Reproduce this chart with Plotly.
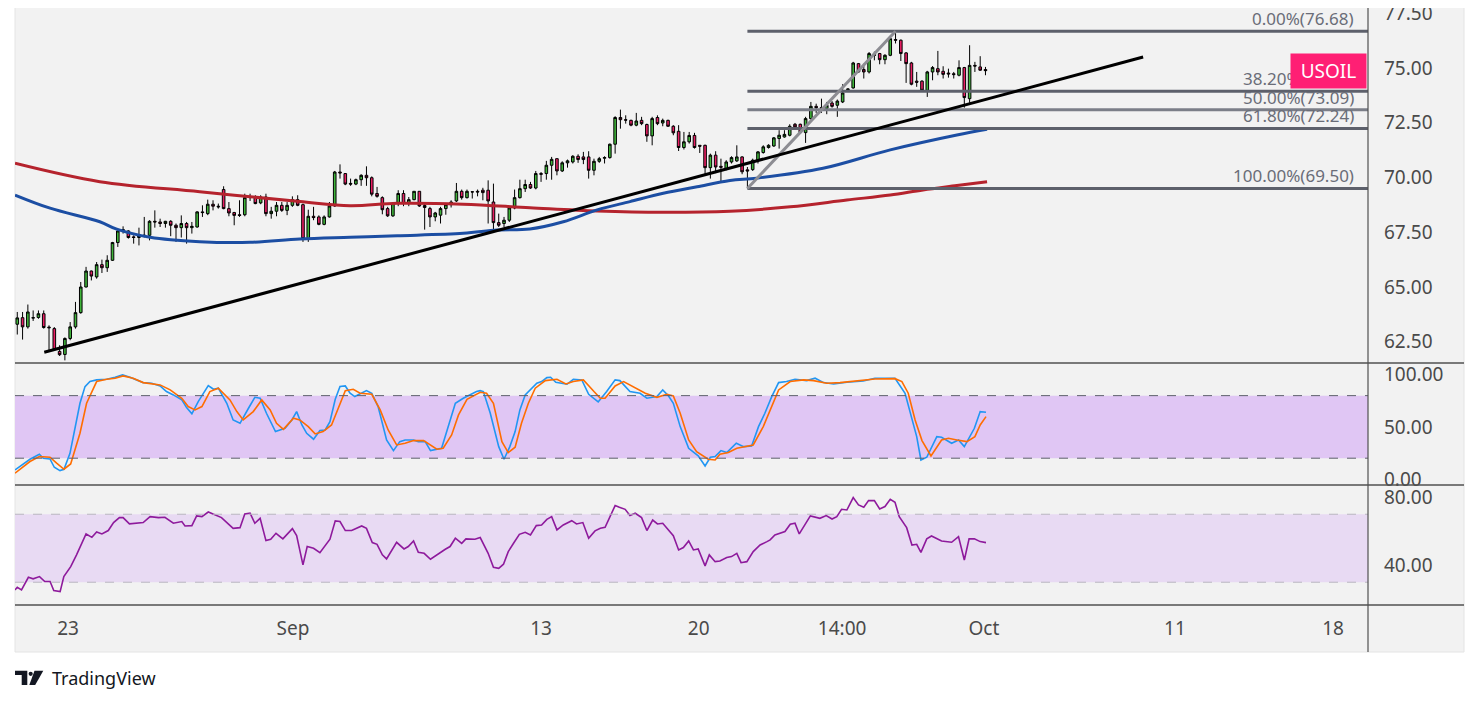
import plotly.graph_objects as go

# ---- price candles (4H), index 0 = first visible candle ----
opens = [
    63.30, 63.60, 63.18, 63.58, 63.61, 63.78, 63.17, 63.10, 62.06, 61.92,
    62.65, 63.18, 63.83, 65.00, 65.73, 65.46, 66.02, 65.88, 66.22, 67.03,
    67.56, 67.56, 67.29, 67.26, 67.32, 67.36, 68.00, 67.97, 67.90, 68.00,
    67.82, 67.71, 67.90, 67.71, 67.74, 68.43, 68.35, 68.78, 68.69, 69.45,
    68.58, 68.40, 68.30, 68.30, 69.08, 69.11, 68.84, 69.11, 68.35, 68.46,
    68.73, 68.50, 68.73, 68.99, 68.76, 67.21, 68.23, 68.20, 67.86, 68.20,
    68.70, 70.25, 70.18, 69.73, 69.70, 69.90, 70.10, 69.99, 69.27, 69.08,
    68.58, 68.25, 68.81, 69.27, 68.84, 68.99, 69.37, 68.72, 68.58, 68.20,
    68.28, 68.58, 68.76, 68.93, 69.37, 69.08, 69.35, 69.37, 69.42, 69.42,
    68.88, 67.94, 67.90, 68.05, 68.61, 69.08, 69.49, 69.68, 69.52, 70.18,
    70.18, 70.56, 70.86, 70.30, 70.67, 70.71, 70.97, 70.94, 70.94, 70.33,
    70.74, 70.88, 70.91, 71.52, 72.74, 72.64, 72.61, 72.39, 72.61, 72.42,
    71.90, 72.74, 72.49, 72.61, 72.34, 72.11, 71.37, 71.63, 71.92, 71.47,
    71.47, 70.45, 71.02, 70.51, 70.41, 70.71, 70.76, 70.94, 70.35, 70.36,
    70.79, 71.14, 71.37, 71.44, 71.78, 71.85, 71.93, 72.43, 72.43, 72.05,
    72.69, 73.25, 73.19, 73.16, 73.40, 73.30, 73.45, 74.01, 74.09, 75.20,
    74.93, 74.82, 75.62, 75.66, 75.38, 75.58, 76.30, 76.27, 75.69, 75.23,
    74.40, 74.40, 73.98, 74.82, 74.97, 74.85, 74.77, 74.74, 74.67, 75.02,
    73.60, 75.12, 75.05, 74.93,
]
highs = [
    63.86, 63.86, 64.20, 63.93, 63.93, 63.93, 63.25, 63.17, 62.34, 62.70,
    63.40, 64.32, 65.23, 65.92, 65.75, 66.14, 66.25, 66.45, 67.06, 67.62,
    67.77, 67.59, 67.36, 67.71, 68.20, 68.05, 68.50, 68.12, 68.02, 68.05,
    67.90, 68.27, 67.97, 67.97, 68.46, 68.73, 68.99, 68.96, 68.81, 69.60,
    68.88, 68.43, 68.96, 69.26, 69.26, 69.19, 69.19, 69.26, 68.66, 68.88,
    68.88, 68.88, 69.14, 69.19, 68.81, 68.53, 68.66, 68.27, 68.27, 68.88,
    70.30, 70.60, 70.20, 69.95, 69.95, 70.15, 70.51, 70.05, 69.57, 69.14,
    68.66, 68.85, 69.42, 69.42, 69.11, 69.37, 69.37, 68.81, 68.66, 68.43,
    68.66, 68.84, 68.96, 69.75, 69.45, 69.45, 69.37, 69.45, 69.53, 69.87,
    69.72, 68.35, 68.20, 68.69, 69.45, 69.90, 69.90, 69.80, 70.30, 70.25,
    70.76, 70.94, 70.86, 70.74, 70.82, 71.02, 71.06, 71.17, 71.20, 70.86,
    70.94, 70.97, 71.55, 72.80, 73.10, 72.84, 72.64, 72.95, 72.77, 72.46,
    72.77, 72.84, 72.69, 72.64, 72.39, 72.39, 72.08, 72.08, 72.04, 71.47,
    71.50, 71.09, 71.20, 70.86, 70.79, 70.97, 71.47, 70.97, 70.48, 70.86,
    71.21, 71.47, 71.52, 71.85, 72.16, 72.16, 72.43, 72.49, 72.46, 72.77,
    73.45, 73.37, 73.60, 73.45, 73.49, 73.56, 74.26, 74.06, 75.28, 75.23,
    75.20, 75.73, 75.75, 75.69, 75.63, 76.42, 76.68, 76.30, 75.73, 75.28,
    74.82, 74.44, 74.87, 75.09, 75.78, 75.08, 74.97, 74.82, 75.35, 75.05,
    76.04, 75.28, 75.54, 75.05,
]
lows = [
    62.83, 62.60, 63.10, 63.45, 63.55, 63.10, 62.11, 62.11, 61.85, 61.65,
    62.57, 63.10, 63.78, 64.98, 65.30, 65.38, 65.64, 65.69, 66.19, 66.83,
    67.44, 67.21, 66.98, 66.90, 67.26, 67.13, 67.71, 67.74, 67.71, 67.32,
    67.06, 67.26, 66.98, 67.44, 67.71, 68.20, 68.28, 68.50, 68.58, 68.55,
    68.23, 67.82, 68.20, 68.23, 68.93, 68.78, 68.78, 68.23, 68.12, 68.23,
    68.43, 68.28, 68.66, 68.69, 67.06, 67.06, 68.05, 67.82, 67.82, 68.17,
    68.66, 69.95, 69.65, 69.62, 69.65, 69.62, 69.62, 69.14, 69.08, 68.32,
    68.20, 68.20, 68.69, 68.69, 68.69, 68.96, 68.66, 67.62, 67.74, 68.00,
    67.90, 68.30, 68.63, 68.88, 68.99, 69.04, 69.04, 69.14, 68.96, 67.90,
    67.56, 67.74, 67.74, 67.97, 68.55, 69.04, 69.34, 69.48, 69.46, 69.80,
    69.90, 69.90, 70.10, 70.25, 70.45, 70.64, 70.67, 70.61, 69.95, 70.10,
    70.67, 70.64, 70.86, 71.09, 72.23, 72.46, 72.34, 72.34, 72.39, 71.63,
    71.47, 72.39, 72.34, 72.31, 71.93, 71.21, 71.28, 71.55, 71.32, 71.12,
    70.10, 69.95, 70.20, 69.80, 70.33, 70.64, 70.71, 70.15, 69.50, 70.30,
    70.64, 71.09, 71.32, 71.40, 71.32, 71.82, 71.88, 72.28, 72.00, 71.58,
    72.64, 72.95, 72.95, 72.89, 73.19, 72.77, 73.40, 73.91, 74.06, 74.78,
    74.52, 74.75, 75.35, 75.17, 75.17, 75.54, 76.12, 75.32, 74.32, 74.21,
    74.14, 73.95, 73.68, 74.44, 74.67, 74.52, 74.56, 74.52, 74.62, 73.19,
    73.41, 74.82, 74.87, 74.67,
]
closes = [
    63.59, 63.18, 63.86, 63.60, 63.78, 63.15, 63.14, 62.14, 61.91, 62.65,
    63.18, 63.83, 65.00, 65.73, 65.50, 66.02, 65.88, 66.22, 67.03, 67.56,
    67.62, 67.26, 67.26, 67.34, 67.36, 68.00, 67.97, 67.90, 68.00, 67.82,
    67.71, 67.90, 67.71, 67.77, 68.43, 68.40, 68.78, 68.69, 68.66, 68.58,
    68.38, 68.27, 68.27, 69.08, 69.11, 68.81, 69.11, 68.35, 68.46, 68.73,
    68.50, 68.73, 68.99, 68.73, 67.21, 68.23, 68.17, 67.86, 68.20, 68.70,
    70.25, 70.21, 69.70, 69.70, 69.90, 70.10, 69.99, 69.24, 69.14, 68.53,
    68.25, 68.81, 69.27, 68.81, 68.99, 69.37, 68.70, 68.63, 68.20, 68.38,
    68.58, 68.76, 68.88, 69.37, 69.08, 69.37, 69.34, 69.34, 69.31, 68.93,
    67.94, 67.82, 68.05, 68.61, 69.08, 69.49, 69.68, 69.52, 70.18, 70.15,
    70.56, 70.83, 70.30, 70.67, 70.76, 70.97, 70.82, 70.82, 70.33, 70.74,
    70.86, 70.91, 71.52, 72.74, 72.64, 72.62, 72.39, 72.58, 72.46, 71.90,
    72.69, 72.46, 72.61, 72.34, 72.04, 71.37, 71.63, 71.92, 71.37, 71.43,
    70.45, 71.02, 70.48, 70.47, 70.71, 70.91, 70.94, 70.26, 70.30, 70.79,
    71.17, 71.40, 71.47, 71.81, 71.93, 71.97, 72.34, 72.31, 72.05, 72.69,
    73.25, 73.19, 73.16, 73.30, 73.25, 73.49, 73.86, 74.04, 75.23, 74.82,
    74.82, 75.66, 75.58, 75.38, 75.58, 76.34, 76.27, 75.66, 75.20, 74.26,
    74.35, 73.98, 74.82, 75.02, 74.82, 74.71, 74.73, 74.70, 75.02, 73.65,
    75.12, 75.09, 74.90, 74.88,
]

# ---- moving averages (read at sample candles) ----
ma_red_idx = [-0.43, 15.6, 34.5, 53.4, 62.9, 71.8, 84.3, 96.9, 109.6, 122.1,
              134.7, 146.1, 156.8, 165.0, 171.2, 177.6, 183.3]
ma_red_val = [70.65, 69.81, 69.35, 68.90, 68.71, 68.82, 68.78, 68.62, 68.47, 68.41,
              68.46, 68.66, 68.97, 69.20, 69.43, 69.63, 69.81]
ma_blue_idx = [-0.43, 6.2, 15.6, 18.8, 25.1, 34.5, 44.0, 53.4, 62.9, 71.8, 84.3,
               90.7, 96.9, 103.2, 109.6, 115.8, 122.1, 128.5, 134.7, 139.8, 152.3,
               165.0, 177.6, 183.3]
ma_blue_val = [69.20, 68.60, 67.98, 67.64, 67.27, 67.07, 67.04, 67.19, 67.27, 67.34, 67.45,
               67.60, 67.65, 67.98, 68.52, 68.90, 69.28, 69.58, 69.86, 69.97, 70.42,
               71.26, 71.94, 72.20]

# ---- drawings ----
trend_idx = [5.1, 212.8]
trend_val = [62.02, 75.50]
swing_idx = [138, 166]
swing_val = [69.50, 76.68]
fib_ratios = ["0.00%", "38.20%", "50.00%", "61.80%", "100.00%"]
fib_levels = [76.68, 73.94, 73.09, 72.24, 69.50]
fib_colors = ["#5d606b", "#5d606b", "#7b7e88", "#5d606b", "#5d606b"]

# ---- Stochastic RSI ----
stoch_k_idx = [-0.43, 2.4, 4.17, 4.92, 6.18, 7.0, 8.07, 8.83, 9.96, 10.91, 11.85, 12.8,
               13.74, 15.0, 16.9, 18.5, 19.9, 21.3, 22.6, 23.8, 25.4, 27.0, 28.2, 29.5,
               31.1, 32.0, 33.0, 34.2, 36.1, 37.1, 38.0, 39.6, 40.8, 42.1, 43.7, 44.9,
               45.9, 47.1, 48.8, 50.6, 51.9, 52.8, 53.8, 54.7, 56.0, 57.2, 58.2, 59.1,
               60.1, 61.0, 62.0, 62.9, 63.8, 65.1, 66.0, 67.0, 68.2, 69.8, 71.1, 72.3,
               73.3, 74.9, 75.8, 77.1, 78.1, 80.2, 81.5, 82.8, 84.3, 85.6, 86.8,
               87.5, 88.1, 89.4, 91.0, 92.0, 93.1, 94.1, 95.0, 96.0, 96.9, 98.2, 99.1,
               100.1, 100.8, 101.8, 103.9, 105.1, 106.7, 108.0, 109.8, 111.4, 113.0,
               113.9, 115.8, 117.7, 119.0, 120.9, 122.0, 123.1, 124.0, 125.3, 126.9,
               128.7, 130.0, 131.0, 131.9, 133.0, 134.1, 135.9, 137.3, 138.8, 140.1,
               141.3, 142.6, 143.9, 145.4, 147.0, 149.2, 150.8, 152.4, 154.3, 156.8,
               159.9, 162.1, 165.9, 167.8, 169.1, 170.0, 170.8, 171.9, 173.8, 174.7,
               176.6, 177.9, 179.0, 180.0, 180.9, 182.0, 183.1]
stoch_k = [8.8, 19.0, 23.8, 20.0, 19.3, 11.3, 8.1, 9.4, 24.7, 50.3, 72.7, 88.7,
           93.5, 95.1, 95.7, 97.6, 99.9, 97.6, 95.1, 92.5, 91.9, 89.3, 83.9, 80.7,
           75.9, 68.5, 62.5, 74.3, 89.6, 86.1, 87.1, 72.7, 56.7, 53.5, 67.9, 78.4,
           77.5, 63.1, 45.5, 48.7, 56.7, 64.7, 51.9, 43.9, 38.2, 46.5, 47.1, 55.1,
           76.5, 88.7, 89.3, 82.3, 79.1, 82.3, 84.8, 82.3, 69.5, 37.5, 27.3, 35.9,
           37.5, 37.5, 35.9, 35.9, 27.3, 29.5, 50.3, 72.7, 77.5, 80.7, 83.9,
           84.8, 83.9, 63.1, 31.1, 19.0, 31.1, 45.5, 66.3, 80.7, 85.5, 91.9, 93.5,
           97.3, 97.6, 92.8, 90.9, 95.7, 95.1, 81.3, 74.0, 83.9, 95.1,
           94.4, 83.9, 82.3, 77.5, 79.1, 85.5, 79.7, 72.7, 50.3, 29.5,
           22.2, 12.6, 20.9, 21.6, 27.3, 25.4, 34.3, 31.1, 31.7, 50.3,
           63.1, 79.1, 92.5, 93.5, 95.7, 94.4, 96.7, 92.5, 91.2, 92.8,
           94.1, 96.7, 96.7, 82.3, 58.3, 40.7, 18.3, 20.9, 40.7, 40.1,
           34.3, 37.5, 31.1, 40.7, 48.7, 64.7, 64.1]
stoch_d_idx = [-0.43, 2.4, 4.17, 6.18, 7.44, 8.83, 10.09, 11.85, 13.1, 15.0, 16.9, 18.5,
               20.0, 21.9, 23.8, 27.0, 28.9, 31.1, 32.3, 33.6, 34.9, 36.4, 38.0, 40.2,
               41.5, 42.7, 44.6, 46.2, 47.8, 49.0, 50.3, 52.2, 53.4, 55.0, 56.3, 57.8,
               59.4, 62.0, 63.5, 64.8, 67.0, 68.6, 70.1, 71.7, 73.3, 74.9, 76.8, 78.0,
               79.3, 80.5, 82.1, 83.4, 85.0,
               87.5, 88.7, 90.0, 91.6, 92.8, 94.1, 95.3, 96.6, 97.9, 99.8, 102.0, 103.7,
               105.1, 107.0, 109.0, 110.2, 111.1, 113.0, 114.6, 116.1, 118.7, 120.9,
               122.8, 124.0, 125.3, 126.9, 128.4, 130.6, 131.9, 132.8, 134.4, 136.0,
               139.1, 141.0, 142.3, 143.9, 146.1, 148.6, 150.5, 153.0, 155.5, 158.7,
               162.1, 165.9, 167.2, 168.4, 169.7, 171.0, 172.7, 174.7, 176.0, 177.6,
               179.5, 181.0, 182.0, 183.1]
stoch_d = [5.6, 16.8, 21.6, 20.9, 15.2, 9.4, 14.5, 43.9, 72.7, 93.5, 95.7, 96.7,
           98.9, 96.7, 92.5, 90.3, 85.5, 77.5, 69.5, 66.3, 69.5, 83.9, 87.1, 75.9,
           64.7, 56.7, 64.7, 75.9, 66.3, 53.5, 47.7, 58.3, 56.7, 50.3, 43.3, 45.5,
           51.9, 84.8, 86.1, 82.3, 81.3, 66.3, 47.1, 32.7, 34.3, 36.9, 36.9, 32.7,
           28.6, 29.5, 42.3, 61.5, 76.5,
           83.2, 82.3, 72.7, 35.9, 25.4, 30.5, 53.5, 72.7, 87.1, 94.4, 95.7, 91.2,
           93.5, 95.1, 83.9, 77.5, 77.5, 89.3, 93.5, 89.3, 82.3, 78.4,
           81.3, 79.7, 63.1, 37.5, 26.3, 19.0, 18.3, 23.8, 25.4, 29.5,
           32.7, 50.3, 66.3, 85.5, 93.5, 95.1, 94.4, 91.9, 92.5, 94.1,
           96.0, 96.3, 93.5, 82.3, 56.7, 36.9, 22.2, 37.5, 39.1, 37.5,
           35.9, 40.7, 51.9, 59.9]

# ---- RSI ----
rsi_idx = [-0.43, 0.0, 0.8, 2.1, 3.0, 4.2, 5.2, 6.2, 6.9, 8.1, 8.8, 10.1, 11.2, 12.5,
           13.0, 14.1, 15.0, 16.0, 17.2, 18.2, 19.3, 20.0, 21.2, 23.8, 25.1, 26.7,
           27.9, 29.5, 31.1, 31.7, 33.0, 33.9, 34.9, 36.1, 37.4, 38.6, 40.8, 42.1,
           43.0, 44.0, 44.9, 45.9, 47.0, 47.9, 48.9, 50.2, 52.0, 52.8, 54.0, 54.8,
           56.0, 57.2, 59.1, 60.1, 61.0, 62.0, 63.2, 65.1, 66.0, 67.1, 68.0, 69.0,
           69.8, 71.7, 73.1, 73.9, 74.9, 75.8, 76.9, 78.1, 80.9, 81.8, 82.8, 84.0,
           84.8, 86.5,
           87.5, 89.0, 90.0, 91.0, 91.9, 92.8, 93.8, 94.9, 96.0, 97.0, 98.1, 99.1,
           100.1, 101.0, 102.0, 103.2, 104.8, 105.7, 106.9, 108.0, 109.2, 110.2,
           111.1, 112.0, 113.0, 113.8, 114.9, 115.8, 116.8, 118.0, 119.0, 120.1,
           121.0, 122.0, 123.1, 124.0, 125.0, 125.9, 126.9, 127.8, 128.7, 130.0,
           130.8, 131.9, 132.8, 134.1, 135.0, 136.0, 136.8, 137.9, 139.1, 140.4,
           141.7, 142.3, 143.2, 144.5, 145.1, 146.1, 147.0, 147.8, 149.9, 151.7,
           152.9, 154.0, 154.9, 155.8, 156.8, 158.0, 159.0, 160.0, 160.9, 162.0,
           163.0, 164.0, 165.0, 165.9, 166.7, 168.1, 169.1, 170.0, 170.8, 171.9,
           172.8, 174.7, 176.6, 177.9, 179.0, 179.9, 180.9, 182.0, 183.1]
rsi_val = [25.5, 27.0, 25.5, 32.9, 32.0, 33.3, 30.4, 30.4, 25.1, 24.5, 33.3, 39.2, 46.1, 54.9,
           58.4, 56.4, 59.6, 58.4, 60.4, 65.1, 68.0, 68.0, 64.3, 65.1, 68.6, 68.0,
           68.2, 64.7, 65.7, 63.1, 63.3, 69.0, 68.6, 71.3, 69.4, 68.0, 61.7, 62.1,
           70.2, 70.6, 64.7, 67.6, 54.5, 55.3, 58.8, 55.5, 61.5, 57.4, 40.2, 51.0,
           50.0, 47.4, 55.3, 66.1, 65.7, 60.4, 60.4, 63.1, 61.7, 53.3, 52.3, 46.1,
           43.7, 53.5, 49.6, 51.0, 54.3, 47.6, 47.0, 43.5, 49.4, 51.0, 55.9, 52.9,
           55.5, 55.3,
           56.3, 47.0, 38.8, 38.2, 40.6, 48.0, 52.9, 58.2, 59.4, 57.8, 63.3, 63.7,
           67.0, 68.6, 60.8, 63.7, 66.2, 64.3, 65.1, 55.9, 60.2, 61.7,
           62.3, 68.6, 75.1, 74.1, 72.9, 69.2, 70.6, 68.0, 60.4, 66.6,
           64.3, 64.7, 60.8, 57.4, 49.0, 50.4, 54.3, 49.0, 49.6, 39.6,
           46.1, 42.1, 42.5, 44.5, 45.1, 47.0, 41.5, 42.1, 48.0, 51.9,
           53.9, 54.9, 57.8, 59.4, 59.8, 64.1, 64.7, 58.4, 69.0, 67.6,
           69.2, 67.2, 68.6, 72.9, 72.5, 79.8, 75.5, 74.1, 78.0, 78.0,
           73.1, 74.5, 78.8, 77.0, 68.6, 62.1, 51.9, 52.3, 47.6, 55.5,
           57.2, 54.3, 53.5, 56.8, 43.1, 55.5, 55.5, 53.9, 53.3]

# ---- axis ticks ----
tick_idx = [9.6, 52.1, 99.0, 128.8, 155.9, 182.7, 218.8, 248.7]
tick_text = ["23", "Sep", "13", "20", "14:00", "Oct", "11", "18"]
price_ticks = [62.5, 65.0, 67.5, 70.0, 72.5, 75.0, 77.5]
stoch_ticks = [0, 50, 100]
rsi_ticks = [40, 80]

X_RANGE = [-0.43, 255.3]
FONT = "Noto Sans"
TXT = "#4a4a4a"

# the page body adds an 8px margin, so the figure is drawn 8px in and 16px smaller
FIG_W, FIG_H = 1463, 690
PLOT_TOP, PLOT_BOTTOM = 8, 605   # screen pixels of the plot area
PLOT_H = PLOT_BOTTOM - PLOT_TOP


def px(x):  # screen pixel -> paper x
    return (x - 15) / 1353


def py(y):  # screen pixel -> paper y
    return (PLOT_BOTTOM - y) / PLOT_H


fig = go.Figure()

fig.add_trace(go.Scatter(x=ma_red_idx, y=ma_red_val, mode="lines",
                         line=dict(color="#b5232d", width=3, shape="spline"), yaxis="y"))
fig.add_trace(go.Scatter(x=ma_blue_idx, y=ma_blue_val, mode="lines",
                         line=dict(color="#1c4ea3", width=3, shape="spline"), yaxis="y"))

# fib levels
for lvl, col in zip(fib_levels, fib_colors):
    fig.add_trace(go.Scatter(x=[swing_idx[0], X_RANGE[1]], y=[lvl, lvl], mode="lines",
                             line=dict(color=col, width=3), yaxis="y"))
fig.add_trace(go.Scatter(x=swing_idx, y=swing_val, mode="lines",
                         line=dict(color="#8d8d93", width=3), yaxis="y"))

fig.add_trace(go.Candlestick(
    x=list(range(len(opens))), open=opens, high=highs, low=lows, close=closes,
    increasing=dict(fillcolor="#3fb43a", line=dict(color="#000000", width=1)),
    decreasing=dict(fillcolor="#e91e63", line=dict(color="#000000", width=1)),
    whiskerwidth=0, yaxis="y",
))

fig.add_trace(go.Scatter(x=trend_idx, y=trend_val, mode="lines",
                         line=dict(color="#000000", width=3), yaxis="y"))

fig.add_trace(go.Scatter(x=stoch_k_idx, y=stoch_k, mode="lines",
                         line=dict(color="#2196f3", width=1.6), yaxis="y2"))
fig.add_trace(go.Scatter(x=stoch_d_idx, y=stoch_d, mode="lines",
                         line=dict(color="#ff6d00", width=1.6), yaxis="y2"))
fig.add_trace(go.Scatter(x=rsi_idx, y=rsi_val, mode="lines",
                         line=dict(color="#8e1a9c", width=1.6), yaxis="y3"))

shapes = [
    # chart frame
    dict(type="rect", xref="paper", yref="paper", x0=px(15), x1=px(1464), y0=py(652), y1=py(7),
         fillcolor="#f2f2f2", line=dict(color="#e4e4e4", width=1), layer="below"),
    # stoch band
    dict(type="rect", xref="paper", yref="y2", x0=0, x1=1, y0=20, y1=80,
         fillcolor="#e0c6f4", line=dict(width=0), layer="below"),
    dict(type="line", xref="paper", yref="y2", x0=0, x1=1, y0=80, y1=80,
         line=dict(color="#5d606b", width=1, dash="dash")),
    dict(type="line", xref="paper", yref="y2", x0=0, x1=1, y0=20, y1=20,
         line=dict(color="#5d606b", width=1, dash="dash")),
    # rsi band
    dict(type="rect", xref="paper", yref="y3", x0=0, x1=1, y0=30, y1=70,
         fillcolor="#e8daf3", line=dict(width=0), layer="below"),
    dict(type="line", xref="paper", yref="y3", x0=0, x1=1, y0=70, y1=70,
         line=dict(color="#b9b6c0", width=1, dash="dash")),
    dict(type="line", xref="paper", yref="y3", x0=0, x1=1, y0=30, y1=30,
         line=dict(color="#b9b6c0", width=1, dash="dash")),
]
# pane separators
for yy in (363, 485, 605):
    shapes.append(dict(type="line", xref="paper", yref="paper", x0=px(15), x1=px(1464),
                       y0=py(yy), y1=py(yy), line=dict(color="#505050", width=1.5)))
shapes.append(dict(type="line", xref="paper", yref="paper", x0=px(1368), x1=px(1368),
                   y0=py(652), y1=py(7), line=dict(color="#505050", width=1.2)))

# TradingView logo
shapes.append(dict(type="path", xref="paper", yref="paper", fillcolor="#131722", line=dict(width=0),
                   path="M %f,%f L %f,%f L %f,%f L %f,%f L %f,%f L %f,%f Z" % (
                       px(15), py(670.7), px(27.3), py(670.7), px(27.3), py(685),
                       px(21.7), py(685), px(21.7), py(675), px(15), py(675))))
shapes.append(dict(type="circle", xref="paper", yref="paper", fillcolor="#131722", line=dict(width=0),
                   x0=px(28.6), x1=px(32.8), y0=py(675.9), y1=py(671.7)))
shapes.append(dict(type="path", xref="paper", yref="paper", fillcolor="#131722", line=dict(width=0),
                   path="M %f,%f L %f,%f L %f,%f L %f,%f Z" % (
                       px(34.5), py(670.7), px(43.3), py(670.7), px(35.2), py(685),
                       px(29.3), py(685))))

annotations = []
for ratio, lvl in zip(fib_ratios, fib_levels):
    annotations.append(dict(
        xref="paper", yref="y", x=px(1356), y=lvl, xanchor="right", yanchor="bottom",
        text="%s(%.2f)" % (ratio, lvl), showarrow=False, yshift=-1,
        font=dict(family=FONT, size=17, color="#6a6d78"),
    ))
annotations.append(dict(
    xref="paper", yref="y", x=px(1367), y=closes[-1], xanchor="right", yanchor="middle",
    text="USOIL", showarrow=False, bgcolor="#ff1f74", borderpad=4, width=67,
    font=dict(family=FONT, size=19, color="#ffffff"),
))
annotations.append(dict(
    xref="paper", yref="paper", x=px(50), y=py(678), xanchor="left", yanchor="middle",
    text="TradingView", showarrow=False,
    font=dict(family=FONT, size=18, color="#131722"),
))

yax_common = dict(side="right", anchor="x", showgrid=False, zeroline=False, showline=False,
                  ticks="", ticklen=0, ticklabelstandoff=15, tickformat=".2f", automargin=False,
                  ticklabeloverflow="allow",
                  tickfont=dict(family=FONT, size=19, color=TXT), fixedrange=True)

fig.update_layout(
    width=FIG_W, height=FIG_H,
    margin=dict(l=7, r=FIG_W - 1360, t=PLOT_TOP - 8, b=FIG_H - (PLOT_BOTTOM - 8), pad=0),
    paper_bgcolor="#ffffff", plot_bgcolor="#f2f2f2",
    showlegend=False,
    xaxis=dict(domain=[0, 1], anchor="y3", range=X_RANGE, showgrid=False, zeroline=False,
               showline=False, ticks="", tickvals=tick_idx, ticktext=tick_text, automargin=False,
               ticklabelstandoff=10, tickfont=dict(family=FONT, size=19, color=TXT),
               rangeslider=dict(visible=False), fixedrange=True),
    yaxis=dict(domain=[py(363), 1], range=[61.53, 77.74], tickvals=price_ticks, **yax_common),
    yaxis2=dict(domain=[py(485), py(363)], range=[-5.7, 111.3], tickvals=stoch_ticks, **yax_common),
    yaxis3=dict(domain=[0, py(485)], range=[16.6, 87.2], tickvals=rsi_ticks, **yax_common),
    shapes=shapes,
    annotations=annotations,
)

fig.write_html("out.html")
